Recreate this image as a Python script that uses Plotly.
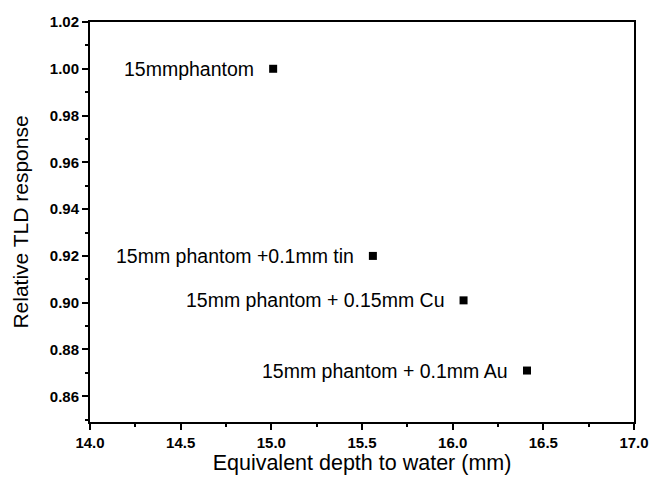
import plotly.graph_objects as go

depth = [15.01, 15.56, 16.06, 16.41]
response = [1.000, 0.920, 0.901, 0.871]
labels = ["15mmphantom", "15mm phantom +0.1mm tin", "15mm phantom + 0.15mm Cu", "15mm phantom + 0.1mm Au"]
x_ticks = [14.0, 14.5, 15.0, 15.5, 16.0, 16.5, 17.0]
y_ticks = [0.86, 0.88, 0.90, 0.92, 0.94, 0.96, 0.98, 1.00, 1.02]

font_family = "Arial, Liberation Sans, sans-serif"

fig = go.Figure()
fig.add_trace(go.Scatter(
    x=depth, y=response, mode="markers",
    marker=dict(symbol="square", size=8, color="black"),
    showlegend=False,
))
for xv, yv, t in zip(depth, response, labels):
    fig.add_annotation(x=xv, y=yv, text=t, showarrow=False, xanchor="right",
                       yanchor="middle", xshift=-17,
                       font=dict(family=font_family, size=19.5, color="black"))

axis_common = dict(
    showline=True, linecolor="black", linewidth=2, mirror=True,
    ticks="outside", ticklen=6, tickwidth=1.5, tickcolor="black",
    showgrid=False, zeroline=False, automargin=False,
    tickfont=dict(family=font_family, size=15, color="black", weight="bold"),
)

fig.update_xaxes(
    range=[14.0, 17.0], tickvals=x_ticks, ticktext=[f"{v:.1f}" for v in x_ticks],
    minor=dict(dtick=0.25, tick0=14.0, ticks="outside", ticklen=3, tickcolor="black"),
    title=dict(text="Equivalent depth to water (mm)", font=dict(family=font_family, size=21.5, color="black"), standoff=4),
    **axis_common,
)
fig.update_yaxes(
    range=[0.849, 1.02], tickvals=y_ticks, ticktext=[f"{v:.2f}" for v in y_ticks],
    minor=dict(dtick=0.01, tick0=0.86, ticks="outside", ticklen=3, tickcolor="black"),
    title=dict(text="Relative TLD response", font=dict(family=font_family, size=21, color="black"), standoff=15),
    **axis_common,
)

fig.update_layout(
    width=653, height=480,
    margin=dict(l=90, r=19, t=22, b=58),
    plot_bgcolor="white", paper_bgcolor="white",
)

fig.write_html("out.html", config={"displayModeBar": False},
               post_script="document.body.style.margin='0';document.body.style.overflow='hidden';")
